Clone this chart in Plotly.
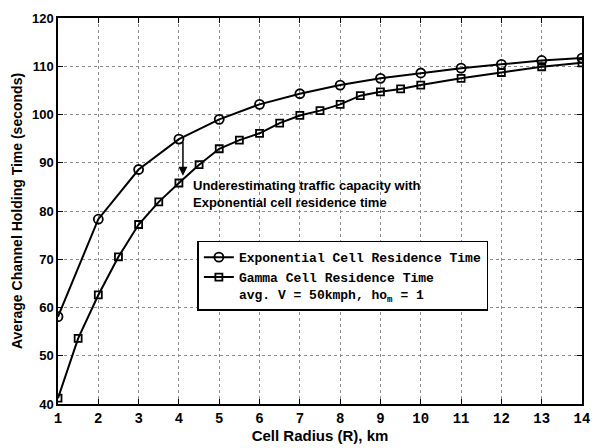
import plotly.graph_objects as go

# Data
exp_x = [1, 2, 3, 4, 5, 6, 7, 8, 9, 10, 11, 12, 13, 14]
exp_y = [58.1, 78.3, 88.6, 94.9, 99.0, 102.1, 104.3, 106.1, 107.5, 108.6, 109.6, 110.4, 111.2, 111.7]

gam_x = [1, 1.5, 2, 2.5, 3, 3.5, 4, 4.5, 5, 5.5, 6, 6.5, 7, 7.5, 8, 8.5, 9, 9.5, 10, 11, 12, 13, 14]
gam_y = [41.2, 53.6, 62.6, 70.5, 77.2, 81.9, 85.8, 89.6, 92.9, 94.7, 96.1, 98.2, 99.8, 100.8,
         102.1, 103.9, 104.7, 105.3, 106.1, 107.5, 108.7, 109.9, 110.7]

x_ticks = list(range(1, 15))
y_ticks = list(range(40, 121, 10))

name_exp = "Exponential Cell Residence Time"
name_gam = "Gamma Cell Residence Time<br>avg. V = 50kmph, ho<sub>m</sub> = 1"
annot_text = "Underestimating traffic capacity with<br>Exponential cell residence time"

SANS = "Liberation Sans, Arial, sans-serif"
MONO = "Liberation Mono, Courier New, monospace"

fig = go.Figure()
fig.add_trace(go.Scatter(
    x=exp_x, y=exp_y, mode="lines+markers", name=name_exp,
    line=dict(color="black", width=2),
    marker=dict(symbol="circle-open", size=9, color="black", line=dict(width=1.8, color="black")),
))
fig.add_trace(go.Scatter(
    x=gam_x, y=gam_y, mode="lines+markers", name=name_gam,
    line=dict(color="black", width=2),
    marker=dict(symbol="square-open", size=7, color="black", line=dict(width=1.8, color="black")),
))

fig.add_annotation(
    x=4.1, y=87.3, ax=4.1, ay=94.6, xref="x", yref="y", axref="x", ayref="y",
    text="", showarrow=True, arrowhead=2, arrowsize=1.2, arrowwidth=1.5, arrowcolor="black",
)
fig.add_annotation(
    x=4.29, y=83.6, xref="x", yref="y", text=annot_text, showarrow=False,
    xanchor="left", yanchor="middle", align="left",
    font=dict(family=SANS, size=13, color="black", weight="bold"),
)

axis_common = dict(
    showline=True, linecolor="black", linewidth=1.5, mirror="ticks",
    ticks="inside", ticklen=5, tickcolor="black", tickwidth=1,
    showgrid=True, gridcolor="#8c8c8c", griddash="dot", gridwidth=1,
    zeroline=False,
)

fig.update_xaxes(
    range=[1, 14], tickvals=x_ticks, ticktext=[str(v) for v in x_ticks],
    tickfont=dict(family=MONO, size=14, color="black", weight="bold"),
    title=dict(text="Cell Radius (R), km", standoff=0,
               font=dict(family=SANS, size=15, color="black", weight="bold")),
    **axis_common,
)
fig.update_yaxes(
    range=[40, 120], tickvals=y_ticks, ticktext=[str(v) for v in y_ticks],
    tickfont=dict(family=SANS, size=13, color="black", weight="bold"),
    title=dict(text="Average Channel Holding Time (seconds)", standoff=6,
               font=dict(family=SANS, size=14, color="black", weight="bold")),
    **axis_common,
)

fig.update_layout(
    width=606, height=448,
    margin=dict(l=58, r=24, t=11, b=35),
    paper_bgcolor="white", plot_bgcolor="white",
    showlegend=True,
    legend=dict(
        x=0.266, y=0.423, xanchor="left", yanchor="top",
        bgcolor="white", bordercolor="black", borderwidth=1.5,
        font=dict(family=MONO, size=13, color="black", weight="bold"),
        valign="top", tracegroupgap=0, itemwidth=30,
    ),
)

fig.write_html("out.html")
